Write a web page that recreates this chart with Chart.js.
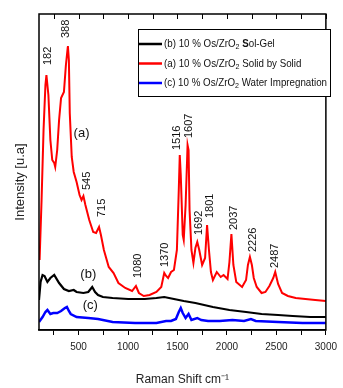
<!DOCTYPE html>
<html>
<head>
<meta charset="utf-8">
<script src="https://cdn.jsdelivr.net/npm/chart.js@4.4.0/dist/chart.umd.min.js"></script>
<style>
  html, body { margin: 0; padding: 0; background: #fff; }
  canvas { display: block; }
</style>
</head>
<body>
<canvas id="raman" width="343" height="388"></canvas>
<script>
// (a) solid by solid - red
const solidShift = [106, 126, 146, 165, 175, 195, 215, 234, 254, 264, 284, 303, 323, 352, 372,
  392, 402, 411, 431, 451, 480, 510, 530, 549, 569, 608, 648, 677, 707, 726, 756, 805, 854, 903,
  972, 1041, 1080, 1110, 1159, 1218, 1287, 1336, 1366, 1385, 1405, 1435, 1464, 1494, 1513, 1523,
  1533, 1553, 1563, 1582, 1602, 1612, 1622, 1641, 1661, 1681, 1700, 1720, 1749, 1779, 1799, 1818,
  1838, 1858, 1897, 1937, 1966, 2006, 2025, 2045, 2065, 2094, 2153, 2193, 2212, 2232, 2252, 2271,
  2301, 2350, 2389, 2429, 2468, 2488, 2517, 2557, 2616, 2695, 2793, 2892, 3000];
const solidIntensity = [70, 130, 200, 245, 255, 235, 190, 170, 167, 163, 180, 210, 232, 238, 265,
  284, 270, 217, 173, 158, 148, 135, 130, 134, 125, 110, 98, 97, 103, 95, 80, 63, 57, 47,
  42, 39, 44, 37, 34, 35, 38, 43, 57, 54, 52, 58, 60, 80, 140, 175,
  155, 95, 90, 125, 185, 180, 120, 80, 67, 82, 88, 80, 65, 72, 105, 80,
  58, 50, 58, 53, 55, 51, 68, 96, 65, 48, 43, 50, 65, 73, 65, 52,
  43, 37, 38, 44, 52, 58, 46, 37, 34, 32, 31, 30, 29];

// (b) sol-gel - black
const solGelShift = [100, 116, 136, 156, 185, 215, 254, 303, 352, 402, 451, 480, 549, 598, 638, 667,
  697, 746, 844, 1002, 1169, 1287, 1366, 1464, 1563, 1681, 1858, 2025, 2193, 2350, 2517, 2665, 2842, 3000];
const solGelIntensity = [30, 48, 55, 54, 48, 52, 55, 47, 41, 39, 40, 38, 37, 38, 43, 38,
  35, 33, 32, 31, 31, 32, 33, 31, 29, 27, 23, 20, 18, 16, 15, 14, 13, 13];

// (c) water impregnation - blue
const waterShift = [100, 136, 165, 185, 215, 244, 284, 323, 362, 382, 402, 421, 480, 598, 697, 844,
  1071, 1287, 1385, 1435, 1484, 1513, 1533, 1553, 1582, 1612, 1641, 1700, 1740, 1809, 1927, 2055,
  2173, 2242, 2291, 2517, 2763, 3000];
const waterIntensity = [8, 13, 18, 20, 16, 17, 17, 19, 22, 23, 19, 16, 13, 12, 11, 8,
  7, 7, 9, 9, 11, 18, 22, 17, 12, 16, 10, 12, 10, 9, 9, 10,
  9, 11, 9, 8, 7, 7];

// peak annotations: label, shift, level of the label's lower end
const peakLabels = ['182', '388', '545', '715', '1080', '1370', '1516', '1607', '1692', '1801', '2037', '2226', '2487'];
const labelShift = [195, 377, 589, 736, 1100, 1376, 1494, 1612, 1715, 1828, 2074, 2266, 2488];
const labelLevel = [265, 292, 140, 113, 52, 63, 180, 192, 95, 112, 100, 78, 62];

const tagText = ['(a)', '(b)', '(c)'];
const tagShift = [530, 598, 618];
const tagLevel = [197, 56, 25];

const shiftTicks = [250, 500, 750, 1000, 1250, 1500, 1750, 2000, 2250, 2500, 2750, 3000];
const shiftLabels = [500, 1000, 1500, 2000, 2500, 3000];

const legendColors = ['#000000', '#ff0000', '#0000ff'];
const legendLead = ['(b) 10 % Os/ZrO', '(a) 10 % Os/ZrO', '(c) 10 % Os/ZrO'];
const legendTail = [['S', 'ol-Gel'], ['', 'Solid by Solid'], ['', 'Water Impregnation']];

const toPoints = (xs, ys) => xs.map((v, i) => ({ x: v, y: ys[i] }));

function legendParts(i) {
  return [
    { t: legendLead[i], font: '11px Arial' },
    { t: '2', font: '8px Arial', dy: 3 },
    { t: ' ', font: '11px Arial' },
    { t: legendTail[i][0], font: 'bold 11px Arial' },
    { t: legendTail[i][1], font: '11px Arial' },
  ];
}

function partsWidth(ctx, parts) {
  return parts.reduce((w, p) => {
    ctx.font = p.font;
    return w + ctx.measureText(p.t).width;
  }, 0);
}

const decorations = {
  id: 'decorations',
  afterDraw(chart) {
    const { ctx, chartArea: a, scales: { x, y } } = chart;
    ctx.save();

    // frame + inward ticks on top
    ctx.strokeStyle = '#000';
    ctx.lineWidth = 1.5;
    ctx.strokeRect(a.left, a.top, a.right - a.left, a.bottom - a.top);
    ctx.lineWidth = 1;
    x.ticks.forEach(t => {
      const px = Math.round(x.getPixelForValue(t.value)) + 0.5;
      ctx.beginPath();
      ctx.moveTo(px, a.top);
      ctx.lineTo(px, a.top + 5);
      ctx.stroke();
    });

    // peak labels
    ctx.fillStyle = '#111';
    ctx.font = '11px Arial';
    ctx.textAlign = 'left';
    ctx.textBaseline = 'middle';
    peakLabels.forEach((txt, i) => {
      ctx.save();
      ctx.translate(x.getPixelForValue(labelShift[i]), y.getPixelForValue(labelLevel[i]));
      ctx.rotate(-Math.PI / 2);
      ctx.fillText(txt, 0, 0);
      ctx.restore();
    });

    // series tags
    ctx.font = '13px Arial';
    ctx.textAlign = 'center';
    tagText.forEach((txt, i) => {
      ctx.fillText(txt, x.getPixelForValue(tagShift[i]), y.getPixelForValue(tagLevel[i]));
    });

    // y title
    ctx.save();
    ctx.translate(20, 182);
    ctx.rotate(-Math.PI / 2);
    ctx.fillStyle = '#222';
    ctx.font = '13px Arial';
    ctx.fillText('Intensity [u.a]', 0, 0);
    ctx.restore();

    // legend
    const box = { l: 138, t: 29, r: 330, b: 96 };
    ctx.fillStyle = '#fff';
    ctx.fillRect(box.l, box.t, box.r - box.l, box.b - box.t);
    ctx.strokeStyle = '#000';
    ctx.lineWidth = 1;
    ctx.strokeRect(box.l + 0.5, box.t + 0.5, box.r - box.l, box.b - box.t);
    const textX = 164;
    const widths = legendColors.map((c, i) => partsWidth(ctx, legendParts(i)));
    const sx = Math.min(1, (box.r - 3 - textX) / Math.max(...widths));
    legendColors.forEach((c, i) => {
      const rowY = 44 + i * 19.5;
      ctx.strokeStyle = c;
      ctx.lineWidth = 2.5;
      ctx.beginPath();
      ctx.moveTo(139, rowY);
      ctx.lineTo(162, rowY);
      ctx.stroke();
      ctx.save();
      ctx.translate(textX, rowY);
      ctx.scale(sx, 1);
      ctx.fillStyle = '#111';
      ctx.textAlign = 'left';
      ctx.textBaseline = 'middle';
      let cx = 0;
      legendParts(i).forEach(p => {
        ctx.font = p.font;
        ctx.fillText(p.t, cx, p.dy || 0);
        cx += ctx.measureText(p.t).width;
      });
      ctx.restore();
    });

    ctx.restore();
  }
};

new Chart(document.getElementById('raman').getContext('2d'), {
  type: 'line',
  data: {
    datasets: [
      { label: 'Sol-Gel', data: toPoints(solGelShift, solGelIntensity), borderColor: '#000000', borderWidth: 2.2 },
      { label: 'Solid by Solid', data: toPoints(solidShift, solidIntensity), borderColor: '#ff0000', borderWidth: 2 },
      { label: 'Water Impregnation', data: toPoints(waterShift, waterIntensity), borderColor: '#0000ff', borderWidth: 2.5 },
    ],
  },
  options: {
    responsive: false,
    animation: false,
    devicePixelRatio: 1,
    layout: { padding: { left: 39, right: 9, top: 14, bottom: 0 } },
    elements: { point: { radius: 0 }, line: { tension: 0 } },
    scales: {
      x: {
        type: 'linear',
        min: 100,
        max: 3000,
        afterBuildTicks: (scale) => { scale.ticks = shiftTicks.map(v => ({ value: v })); },
        afterFit: (scale) => { scale.height = 58; },
        ticks: {
          autoSkip: false,
          maxRotation: 0,
          padding: 6,
          color: '#222',
          font: { family: "'Liberation Sans Narrow', 'Arial Narrow', Arial, sans-serif", size: 10 },
          callback: (v) => shiftLabels.includes(v) ? String(v) : '',
        },
        grid: { drawOnChartArea: false, tickLength: 5, color: '#000' },
        border: { color: '#000', width: 1.5 },
        title: {
          display: true,
          text: 'Raman Shift cm\u207B\u00B9',
          color: '#222',
          font: { family: 'Arial', size: 12 },
          padding: { top: 0, bottom: 1 },
        },
      },
      y: { display: false, min: 0, max: 316 },
    },
    plugins: {
      legend: { display: false },
      tooltip: { enabled: false },
    },
  },
  plugins: [decorations],
});
</script>
</body>
</html>
